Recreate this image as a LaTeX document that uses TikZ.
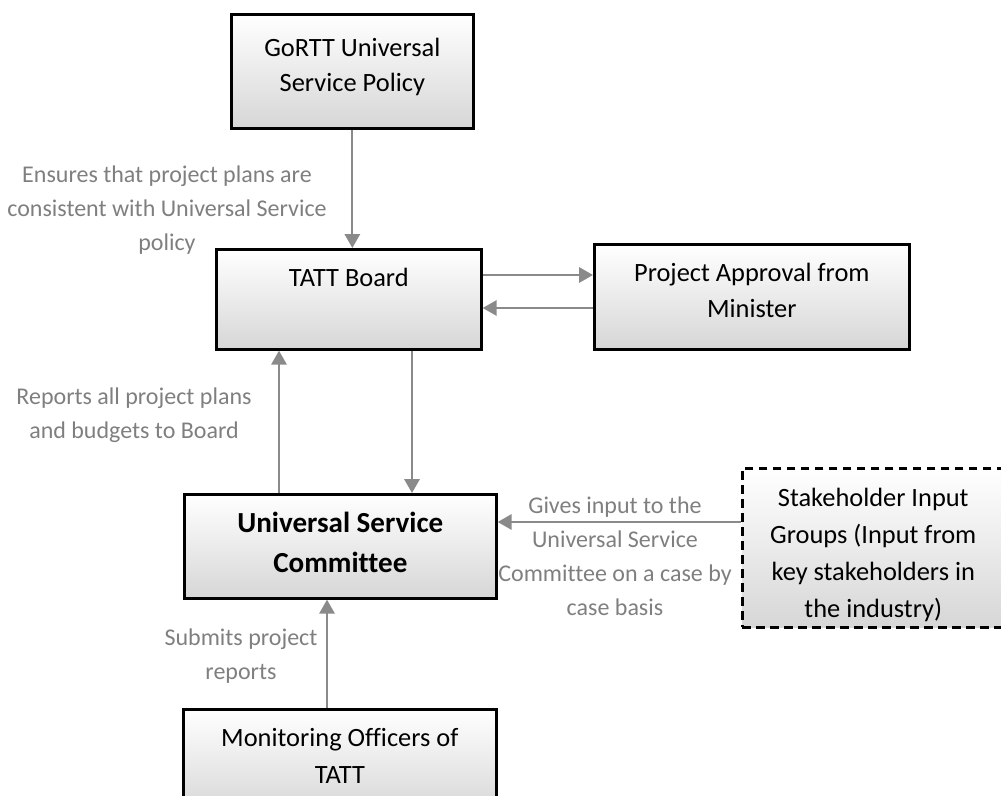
\documentclass[tikz,border=0pt]{standalone}
\usepackage{fontspec}
\setmainfont{Carlito}[Ligatures=NoCommon]
\usetikzlibrary{arrows.meta}
\definecolor{lblgray}{HTML}{7F7F7F}
\definecolor{arrgray}{HTML}{8A8A8A}
\newcommand\boxcontent[4]{\parbox[t][#2][t]{#1}{\centering\rule{0pt}{#3}#4}}
\begin{document}
\begin{tikzpicture}[x=0.75pt,y=-0.75pt,
  box/.style={draw=black, line width=2pt, top color=white, bottom color=black!16, inner sep=0pt, anchor=north west},
  dbox/.style={box, line width=1.9pt, dash pattern=on 6.5pt off 4pt},
  arr/.style={draw=arrgray, line width=1.7pt, -{Triangle[length=10.5pt,width=11.5pt]}},
  lbl/.style={text=lblgray, font=\fontsize{18}{25.5}\selectfont, align=center, inner sep=0pt}
]
\useasboundingbox (0,0) rectangle (1001,796);
\clip (0,0) rectangle (1001,796);

% boxes
\node[box] (gortt) at (230,13) {\boxcontent{181.5pt}{85.5pt}{31.5pt}{\fontsize{19.8}{26.25}\selectfont GoRTT Universal\\ Service Policy}};
\node[box] (tatt) at (215,248) {\boxcontent{198.75pt}{75pt}{27.75pt}{\fontsize{19.8}{26.25}\selectfont TATT Board}};
\node[box] (pa) at (593,243) {\boxcontent{236.25pt}{78.75pt}{27.75pt}{\fontsize{19.8}{27}\selectfont Project Approval from\\ Minister}};
\node[box] (usc) at (183,493) {\boxcontent{234pt}{78pt}{28.5pt}{\fontsize{21.8}{30}\selectfont\bfseries Universal Service\\ Committee}};
\node[box] (mo) at (182,708) {\boxcontent{234.75pt}{78.75pt}{27.75pt}{\fontsize{19.8}{27.5}\selectfont Monitoring Officers of\\ TATT}};
\node[dbox] (sh) at (741,467) {\boxcontent{196.5pt}{119.25pt}{28.5pt}{\fontsize{19.8}{27.75}\selectfont Stakeholder Input\\ Groups (Input from\\ key stakeholders in\\ the industry)}};

% connectors
\draw[arr] (gortt.south) -- (gortt.south |- tatt.north);
\draw[arr] (tatt.east |- 0,275) -- (pa.west |- 0,275);
\draw[arr] (pa.west |- 0,308) -- (tatt.east |- 0,308);
\draw[arr] (usc.north -| 279,0) -- (tatt.south -| 279,0);
\draw[arr] (tatt.south -| 412,0) -- (usc.north -| 412,0);
\draw[arr] (sh.west |- 0,522) -- (usc.east |- 0,522);
\draw[arr] (mo.north -| 327,0) -- (usc.south -| 327,0);

% labels
\node[lbl] (l1) at (167,210) {Ensures that project plans are\\ consistent with Universal Service\\ policy};
\node[lbl] (l2) at (134,415) {Reports all project plans\\ and budgets to Board};
\node[lbl] (l3) at (241,656) {Submits project\\ reports};
\node[lbl] (l4) at (615,556) {Gives input to the\\ Universal Service\\ Committee on a case by\\ case basis};
\end{tikzpicture}
\end{document}
